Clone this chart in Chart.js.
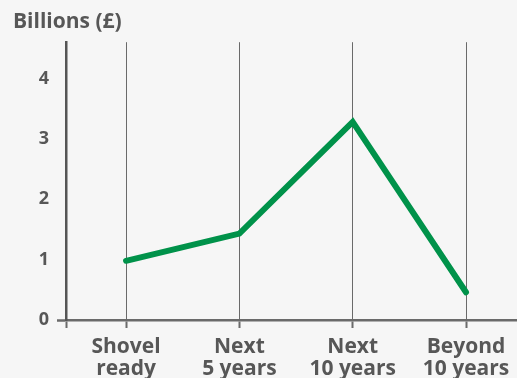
<!DOCTYPE html>
<html>
<head>
<meta charset="utf-8">
<script src="https://cdn.jsdelivr.net/npm/chart.js@4"></script>
<style>
  html, body { margin: 0; padding: 0; background: #f6f6f6; }
  #wrap { width: 517px; height: 378px; }
</style>
</head>
<body>
<div id="wrap"><canvas id="myChart"></canvas></div>
<script>
const categories = [["Shovel", "ready"], ["Next", "5 years"], ["Next", "10 years"], ["Beyond", "10 years"]];
const investment = [0.98, 1.43, 3.28, 0.46];
const yTicks = [0, 1, 2, 3, 4];

const textColor = "#575757";
const gridColor = "#6a6a6a";
const fontFamily = "'Open Sans', Lato, sans-serif";

new Chart("myChart", {
  type: "line",
  data: {
    datasets: [
      {
        data: investment.map((v, i) => ({ x: i, y: v })),
        borderColor: "#00924a",
        borderWidth: 6,
        borderCapStyle: "round",
        borderJoinStyle: "miter",
        pointRadius: 0,
        fill: false,
        tension: 0,
      },
    ],
  },
  options: {
    responsive: true,
    maintainAspectRatio: false,
    animation: false,
    layout: { padding: { left: 13, right: 0, top: 0, bottom: 0 } },
    plugins: {
      legend: { display: false },
      tooltip: { enabled: false },
      title: {
        display: true,
        text: "Billions (£)",
        align: "start",
        color: textColor,
        font: { family: fontFamily, size: 21, weight: "bold", lineHeight: 1.2 },
        padding: { top: 9, bottom: 8 },
      },
    },
    scales: {
      x: {
        type: "linear",
        min: -0.53,
        max: 3.45,
        afterBuildTicks: (axis) => {
          axis.ticks = [{ value: -0.53 }].concat(categories.map((c, i) => ({ value: i })));
        },
        afterFit: (axis) => {
          axis.paddingLeft = 0;
          axis.paddingRight = 0;
          axis.height = 58;
        },
        ticks: {
          autoSkip: false,
          maxRotation: 0,
          padding: 8,
          color: textColor,
          font: { family: fontFamily, size: 21, weight: "bold", lineHeight: 1.05 },
          callback: (value) => (Number.isInteger(value) ? categories[value] : ""),
        },
        grid: {
          color: gridColor,
          lineWidth: 1,
          tickLength: 8,
          tickWidth: 2,
        },
        border: { color: gridColor, width: 2.5 },
      },
      y: {
        min: 0,
        max: 4.6,
        afterBuildTicks: (axis) => {
          axis.ticks = yTicks.map((v) => ({ value: v }));
        },
        afterFit: (axis) => {
          axis.width = 53;
        },
        ticks: {
          padding: 8,
          color: textColor,
          font: { family: fontFamily, size: 18, weight: "bold" },
        },
        grid: {
          drawOnChartArea: false,
          tickLength: 9,
          tickWidth: 2.5,
          tickColor: (ctx) => (ctx.tick && ctx.tick.value === 0 ? gridColor : "rgba(0,0,0,0)"),
        },
        border: { color: "#555555", width: 2.5 },
      },
    },
  },
});
</script>
</body>
</html>
